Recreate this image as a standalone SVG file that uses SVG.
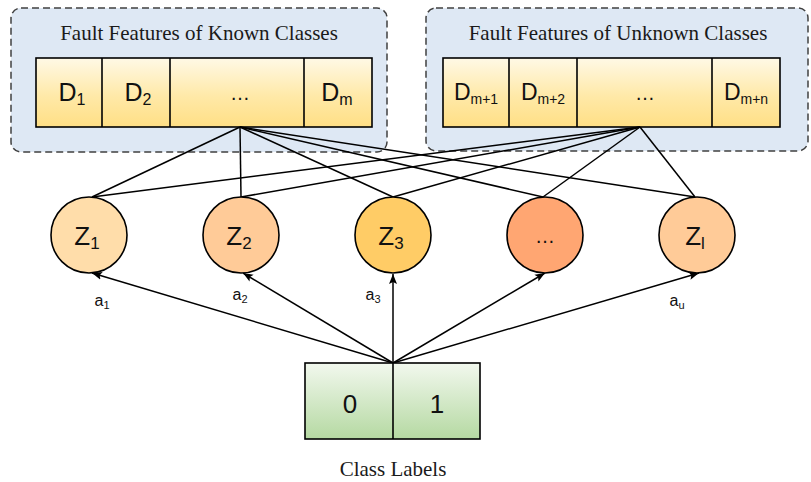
<svg xmlns="http://www.w3.org/2000/svg" width="811" height="482" viewBox="0 0 811 482">
  <defs>
    <linearGradient id="barFill" x1="0" y1="0" x2="0" y2="1">
      <stop offset="0" stop-color="#FFF9E6"/>
      <stop offset="0.55" stop-color="#FFE9A8"/>
      <stop offset="1" stop-color="#FFDF85"/>
    </linearGradient>
    <linearGradient id="labelFill" x1="0" y1="0" x2="0" y2="1">
      <stop offset="0" stop-color="#F2F8EE"/>
      <stop offset="1" stop-color="#B5D9A2"/>
    </linearGradient>
    <marker id="arrow" markerUnits="userSpaceOnUse" markerWidth="10" markerHeight="10" viewBox="0 0 10 10" refX="10" refY="5" orient="auto">
      <path d="M0,1 L10,5 L0,9 L2,5 Z" fill="#000"/>
    </marker>
  </defs>
  <style>
    .panel { fill: #DEE8F4; stroke: #404040; stroke-width: 1.5; stroke-dasharray: 7 4; }
    .cell { fill: url(#barFill); stroke: #000; stroke-width: 1.6; }
    .sep { stroke: #000; stroke-width: 1.6; }
    .title { font-family: "Liberation Serif", serif; font-size: 21px; fill: #1a1a1a; text-anchor: middle; }
    .sans { font-family: "Liberation Sans", "Open Sans", sans-serif; fill: #111; text-anchor: middle; }
    .node { stroke: #000; stroke-width: 1.6; }
    .wire { stroke: #000; stroke-width: 1.5; fill: none; }
    .arrow { stroke: #000; stroke-width: 1.5; fill: none; marker-end: url(#arrow); }
  </style>

  <rect width="811" height="482" fill="#fff"/>

  <!-- known-class feature panel -->
  <g id="known-features">
    <rect class="panel" x="11" y="8" width="376" height="144" rx="10"/>
    <text class="title" x="199" y="40">Fault Features of Known Classes</text>
    <rect class="cell" x="36" y="58" width="336" height="69"/>
    <line class="sep" x1="102" y1="58" x2="102" y2="127"/>
    <line class="sep" x1="170" y1="58" x2="170" y2="127"/>
    <line class="sep" x1="304" y1="58" x2="304" y2="127"/>
    <text class="sans" x="72" y="101" font-size="25">D<tspan font-size="16" dy="4">1</tspan></text>
    <text class="sans" x="138" y="101" font-size="25">D<tspan font-size="16" dy="4">2</tspan></text>
    <text class="sans" x="240" y="100" font-size="20">…</text>
    <text class="sans" x="337" y="101" font-size="25">D<tspan font-size="16" dy="4">m</tspan></text>
  </g>

  <!-- unknown-class feature panel -->
  <g id="unknown-features">
    <rect class="panel" x="426" y="8" width="382" height="143" rx="10"/>
    <text class="title" x="618" y="40">Fault Features of Unknown Classes</text>
    <rect class="cell" x="443" y="58" width="337" height="69"/>
    <line class="sep" x1="509" y1="58" x2="509" y2="127"/>
    <line class="sep" x1="577" y1="58" x2="577" y2="127"/>
    <line class="sep" x1="712" y1="58" x2="712" y2="127"/>
    <text class="sans" x="476" y="100" font-size="23">D<tspan font-size="14" dy="4">m+1</tspan></text>
    <text class="sans" x="543" y="100" font-size="23">D<tspan font-size="14" dy="4">m+2</tspan></text>
    <text class="sans" x="645" y="100" font-size="20">…</text>
    <text class="sans" x="746" y="100" font-size="23">D<tspan font-size="14" dy="4">m+n</tspan></text>
  </g>

  <!-- connectors -->
  <g id="connectors">
    <line class="wire" x1="240" y1="127" x2="92" y2="197"/>
    <line class="wire" x1="240" y1="127" x2="241" y2="197"/>
    <line class="wire" x1="240" y1="127" x2="393" y2="197"/>
    <line class="wire" x1="240" y1="127" x2="543" y2="197"/>
    <line class="wire" x1="240" y1="127" x2="695" y2="197"/>
    <line class="wire" x1="640" y1="127" x2="92" y2="197"/>
    <line class="wire" x1="640" y1="127" x2="241" y2="197"/>
    <line class="wire" x1="640" y1="127" x2="393" y2="197"/>
    <line class="wire" x1="640" y1="127" x2="543" y2="197"/>
    <line class="wire" x1="640" y1="127" x2="695" y2="197"/>

    <line class="arrow" x1="393" y1="363" x2="92" y2="273"/>
    <line class="arrow" x1="393" y1="363" x2="243" y2="273"/>
    <line class="arrow" x1="393" y1="363" x2="393" y2="274"/>
    <line class="arrow" x1="393" y1="363" x2="545" y2="273"/>
    <line class="arrow" x1="393" y1="363" x2="699" y2="273"/>

    <text class="sans" x="102" y="306" font-size="16">a<tspan font-size="11" dy="3">1</tspan></text>
    <text class="sans" x="240" y="300" font-size="16">a<tspan font-size="11" dy="3">2</tspan></text>
    <text class="sans" x="373" y="300" font-size="16">a<tspan font-size="11" dy="3">3</tspan></text>
    <text class="sans" x="677" y="306" font-size="16">a<tspan font-size="11" dy="3">u</tspan></text>
  </g>

  <!-- latent nodes -->
  <g id="z1">
    <circle class="node" cx="89" cy="235" r="38" fill="#FFDDAA"/>
    <text class="sans" x="87" y="245" font-size="26">Z<tspan font-size="17" dy="4">1</tspan></text>
  </g>
  <g id="z2">
    <circle class="node" cx="241" cy="235" r="38" fill="#FFCB98"/>
    <text class="sans" x="239" y="245" font-size="26">Z<tspan font-size="17" dy="4">2</tspan></text>
  </g>
  <g id="z3">
    <circle class="node" cx="393" cy="235" r="38" fill="#FFCC66"/>
    <text class="sans" x="391" y="245" font-size="26">Z<tspan font-size="17" dy="4">3</tspan></text>
  </g>
  <g id="z-more">
    <circle class="node" cx="545" cy="235" r="38" fill="#FFA672"/>
    <text class="sans" x="545" y="243" font-size="20">…</text>
  </g>
  <g id="zl">
    <circle class="node" cx="697" cy="235" r="38" fill="#FFCB98"/>
    <text class="sans" x="695" y="245" font-size="26">Z<tspan font-size="17" dy="4">l</tspan></text>
  </g>

  <!-- class label block -->
  <g id="class-labels">
    <rect x="305" y="363" width="175" height="76" fill="url(#labelFill)" stroke="#000" stroke-width="1.6"/>
    <line class="sep" x1="393" y1="363" x2="393" y2="439"/>
    <text class="sans" x="350" y="413" font-size="26">0</text>
    <text class="sans" x="437" y="413" font-size="26">1</text>
    <text class="title" x="393" y="476">Class Labels</text>
  </g>
</svg>
